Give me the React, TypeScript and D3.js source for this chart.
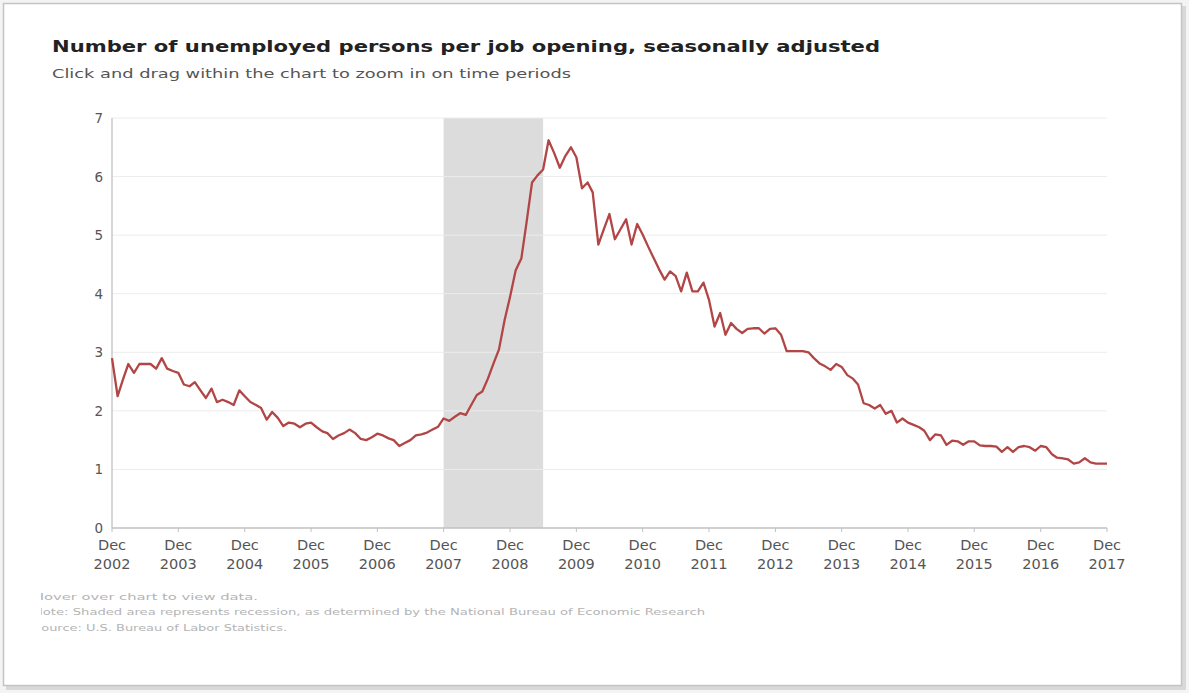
import React from "react";
import * as d3 from "d3";

// ---- data ----
const titleText = "Number of unemployed persons per job opening, seasonally adjusted";
const subtitleText = "Click and drag within the chart to zoom in on time periods";
const footnotes = [
  "Hover over chart to view data.",
  "Note: Shaded area represents recession, as determined by the National Bureau of Economic Research",
  "Source: U.S. Bureau of Labor Statistics.",
];
const startYear = 2002; // first point is Dec 2002
const endYear = 2017;   // last point is Dec 2017
const yTicks = [0, 1, 2, 3, 4, 5, 6, 7];
const tickYears = [2002, 2003, 2004, 2005, 2006, 2007, 2008, 2009, 2010, 2011, 2012, 2013, 2014, 2015, 2016, 2017];
const recession = [new Date(2007, 11, 1), new Date(2009, 5, 1)];
// monthly values, Dec 2002 .. Dec 2017
const ratio = [
  2.9, 2.25, 2.55, 2.8, 2.65, 2.8, 2.8, 2.8, 2.72, 2.9, 2.72, 2.68,
  2.65, 2.45, 2.42, 2.49, 2.35, 2.22, 2.38, 2.15, 2.19, 2.15, 2.1, 2.35,
  2.25, 2.15, 2.1, 2.05, 1.85, 1.98, 1.88, 1.74, 1.8, 1.78, 1.72, 1.78,
  1.8, 1.72, 1.65, 1.62, 1.52, 1.58, 1.62, 1.68, 1.62, 1.52, 1.5, 1.55,
  1.61, 1.58, 1.53, 1.5, 1.4, 1.45, 1.5, 1.58, 1.6, 1.63, 1.68, 1.73,
  1.87, 1.83, 1.9, 1.96, 1.93, 2.1, 2.27, 2.33, 2.55, 2.81, 3.05, 3.55,
  3.95, 4.4, 4.6, 5.2, 5.9, 6.02, 6.12, 6.62, 6.4, 6.15, 6.35, 6.5,
  6.33, 5.8, 5.9, 5.73, 4.84, 5.1, 5.36, 4.93, 5.1, 5.27, 4.84, 5.19,
  5.01, 4.8, 4.6, 4.42, 4.24, 4.38, 4.3, 4.04, 4.36, 4.04, 4.04, 4.19,
  3.9, 3.44, 3.67, 3.3, 3.5, 3.4, 3.33, 3.4, 3.41, 3.41, 3.32, 3.4,
  3.41, 3.3, 3.02, 3.02, 3.02, 3.02, 3.0, 2.9, 2.81, 2.76, 2.7, 2.8,
  2.75, 2.61, 2.55, 2.45, 2.13, 2.1, 2.04, 2.1, 1.95, 2.0, 1.8, 1.87,
  1.8, 1.76, 1.72, 1.66, 1.5, 1.6, 1.58, 1.42, 1.49, 1.48, 1.42, 1.48,
  1.48, 1.41, 1.4, 1.4, 1.39, 1.3, 1.38, 1.3, 1.38, 1.4, 1.38, 1.32,
  1.4, 1.38, 1.26, 1.2, 1.19, 1.17, 1.1, 1.12, 1.19, 1.12, 1.1, 1.1, 1.1,
];

const W = 1189;
const H = 693;
const plot = { left: 112, right: 1107, top: 118, bottom: 528 };
const FONT = "'DejaVu Sans', Verdana, sans-serif";

export default function App() {
  const start = new Date(startYear, 11, 1);
  const data = ratio.map((v, i) => ({ date: d3.timeMonth.offset(start, i), v }));
  const x = d3
    .scaleTime()
    .domain([start, new Date(endYear, 11, 1)])
    .range([plot.left, plot.right]);
  const y = d3.scaleLinear().domain([0, 7]).range([plot.bottom, plot.top]);
  const line = d3
    .line<{ date: Date; v: number }>()
    .x((d) => x(d.date))
    .y((d) => y(d.v));

  return (
    <svg
      width={W}
      height={H}
      style={{ position: "absolute", left: 0, top: 0, background: "#fff" }}
      fontFamily={FONT}
    >
      <defs>
        <clipPath id="fnclip">
          <rect x={41} y={580} width={900} height={80} />
        </clipPath>
      </defs>
      {/* frame with shadow */}
      <rect x={0} y={0} width={W} height={H} fill="#f4f4f4" />
      <rect x={6} y={6} width={1180} height={684} fill="#d9d9d9" />
      <rect x={3.5} y={3.5} width={1178} height={682} fill="#fff" stroke="#c4c4c4" strokeWidth={1.5} />

      <text x={52} y={52} fontSize={16} fontWeight="bold" fill="#222" textLength={828} lengthAdjust="spacingAndGlyphs">
        {titleText}
      </text>
      <text x={52} y={78} fontSize={13} fill="#555" textLength={519} lengthAdjust="spacingAndGlyphs">
        {subtitleText}
      </text>

      {/* recession */}
      <rect
        x={x(recession[0])}
        y={plot.top}
        width={x(recession[1]) - x(recession[0])}
        height={plot.bottom - plot.top}
        fill="#dcdcdc"
      />

      {/* gridlines */}
      {yTicks.filter((t) => t > 0).map((t) => (
        <line key={t} x1={plot.left} x2={plot.right} y1={y(t)} y2={y(t)} stroke="#ececec" strokeWidth={1} />
      ))}

      {/* axes */}
      <line x1={plot.left} x2={plot.left} y1={plot.top} y2={plot.bottom} stroke="#c8c8c8" strokeWidth={1.5} />
      <line x1={plot.left} x2={plot.right} y1={plot.bottom} y2={plot.bottom} stroke="#c0c0c0" strokeWidth={1.5} />

      {yTicks.map((t) => (
        <text key={t} x={103} y={y(t) + 5} fontSize={13.5} fill="#555" textAnchor="end">
          {t}
        </text>
      ))}

      {tickYears.map((yr) => {
        const xx = x(new Date(yr, 11, 1));
        return (
          <g key={yr}>
            <line x1={xx} x2={xx} y1={plot.bottom} y2={plot.bottom + 4} stroke="#c0c0c0" />
            <text x={xx} y={550} fontSize={14.5} fill="#555" textAnchor="middle">
              Dec
            </text>
            <text x={xx} y={569} fontSize={14.5} fill="#555" textAnchor="middle">
              {yr}
            </text>
          </g>
        );
      })}

      <path d={line(data) ?? ""} fill="none" stroke="#b24545" strokeWidth={2.3} strokeLinejoin="round" />

      <g clipPath="url(#fnclip)" fill="#b4b4b4" fontSize={9.5}>
        <text x={33} y={600} textLength={225} lengthAdjust="spacingAndGlyphs">{footnotes[0]}</text>
        <text x={33} y={615} textLength={672} lengthAdjust="spacingAndGlyphs">{footnotes[1]}</text>
        <text x={33} y={631} textLength={254} lengthAdjust="spacingAndGlyphs">{footnotes[2]}</text>
      </g>
    </svg>
  );
}
